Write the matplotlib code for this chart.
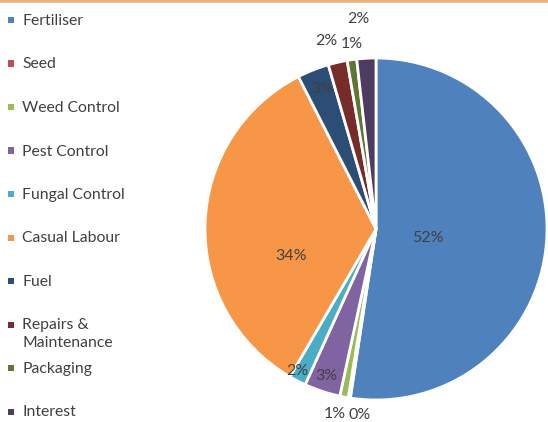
import matplotlib
matplotlib.use("Agg")
import matplotlib.pyplot as plt
from matplotlib.patches import Rectangle
from matplotlib.lines import Line2D
import numpy as np

categories = ["Fertiliser", "Seed", "Weed Control", "Pest Control", "Fungal Control",
              "Casual Labour", "Fuel", "Repairs &\nMaintenance", "Packaging", "Interest"]
values = [52.4, 0.2, 0.8, 3.4, 1.6, 34.1, 3.0, 1.8, 0.9, 1.8]
colors = ["#4F81BD", "#C0504D", "#9BBB59", "#8064A2", "#4BACC6",
          "#F79646", "#2C4D75", "#772C2A", "#5F7530", "#4D3B62"]
# label placement (radius factor, angle in degrees) per slice -- style only
label_pos = [(0.31, -10), (1.09, -95), (1.11, -102.4), (0.91, -108.7), (0.95, -118.8),
             (0.52, 197.8), (0.88, 111), (1.14, 104.8), (1.09, 97.4), (1.23, 94.9)]

W, H = 548, 422
plt.rcParams['font.family'] = ['Lato', 'DejaVu Sans']
fig = plt.figure(figsize=(W/100, H/100), dpi=100)
text_color = "#404040"

R = 171
cx, cy = 376, 229
ax = fig.add_axes([(cx - R)/W, 1 - (cy + R)/H, 2*R/W, 2*R/H])
wedges, _ = ax.pie(values, colors=colors, startangle=90, counterclock=False,
                   wedgeprops=dict(edgecolor="white", linewidth=2), radius=1)
ax.set_xlim(-1, 1)
ax.set_ylim(-1, 1)
ax.set_aspect('equal')
ax.axis('off')

total = sum(values)
for v, (r, a) in zip(values, label_pos):
    pct = round(100 * v / total)
    t = np.deg2rad(a)
    ax.text(r*np.cos(t), r*np.sin(t), f"{pct:.0f}%", ha='center', va='center',
            fontsize=11.5, color=text_color, clip_on=False)

# manual legend
y0 = 20
step = 43.5
for i, (c, col) in enumerate(zip(categories, colors)):
    y = y0 + step * i
    fig.add_artist(Rectangle((8/W, 1 - (y + 3)/H), 6/W, 6/H, transform=fig.transFigure,
                             facecolor=col, edgecolor='none'))
    fig.text(22/W, 1 - (y - 6)/H, c, ha='left', va='top', fontsize=11.3,
             color=text_color, linespacing=1.35)

# top border remnant
fig.add_artist(Line2D([0, 1], [1 - 0.5/H, 1 - 0.5/H], transform=fig.transFigure,
                      color="#F0A050", linewidth=1.2))
fig.add_artist(Line2D([0, 1], [1 - 2/H, 1 - 2/H], transform=fig.transFigure,
                      color="#C8C8C8", linewidth=0.8))

fig.savefig("out.png", dpi=100)
